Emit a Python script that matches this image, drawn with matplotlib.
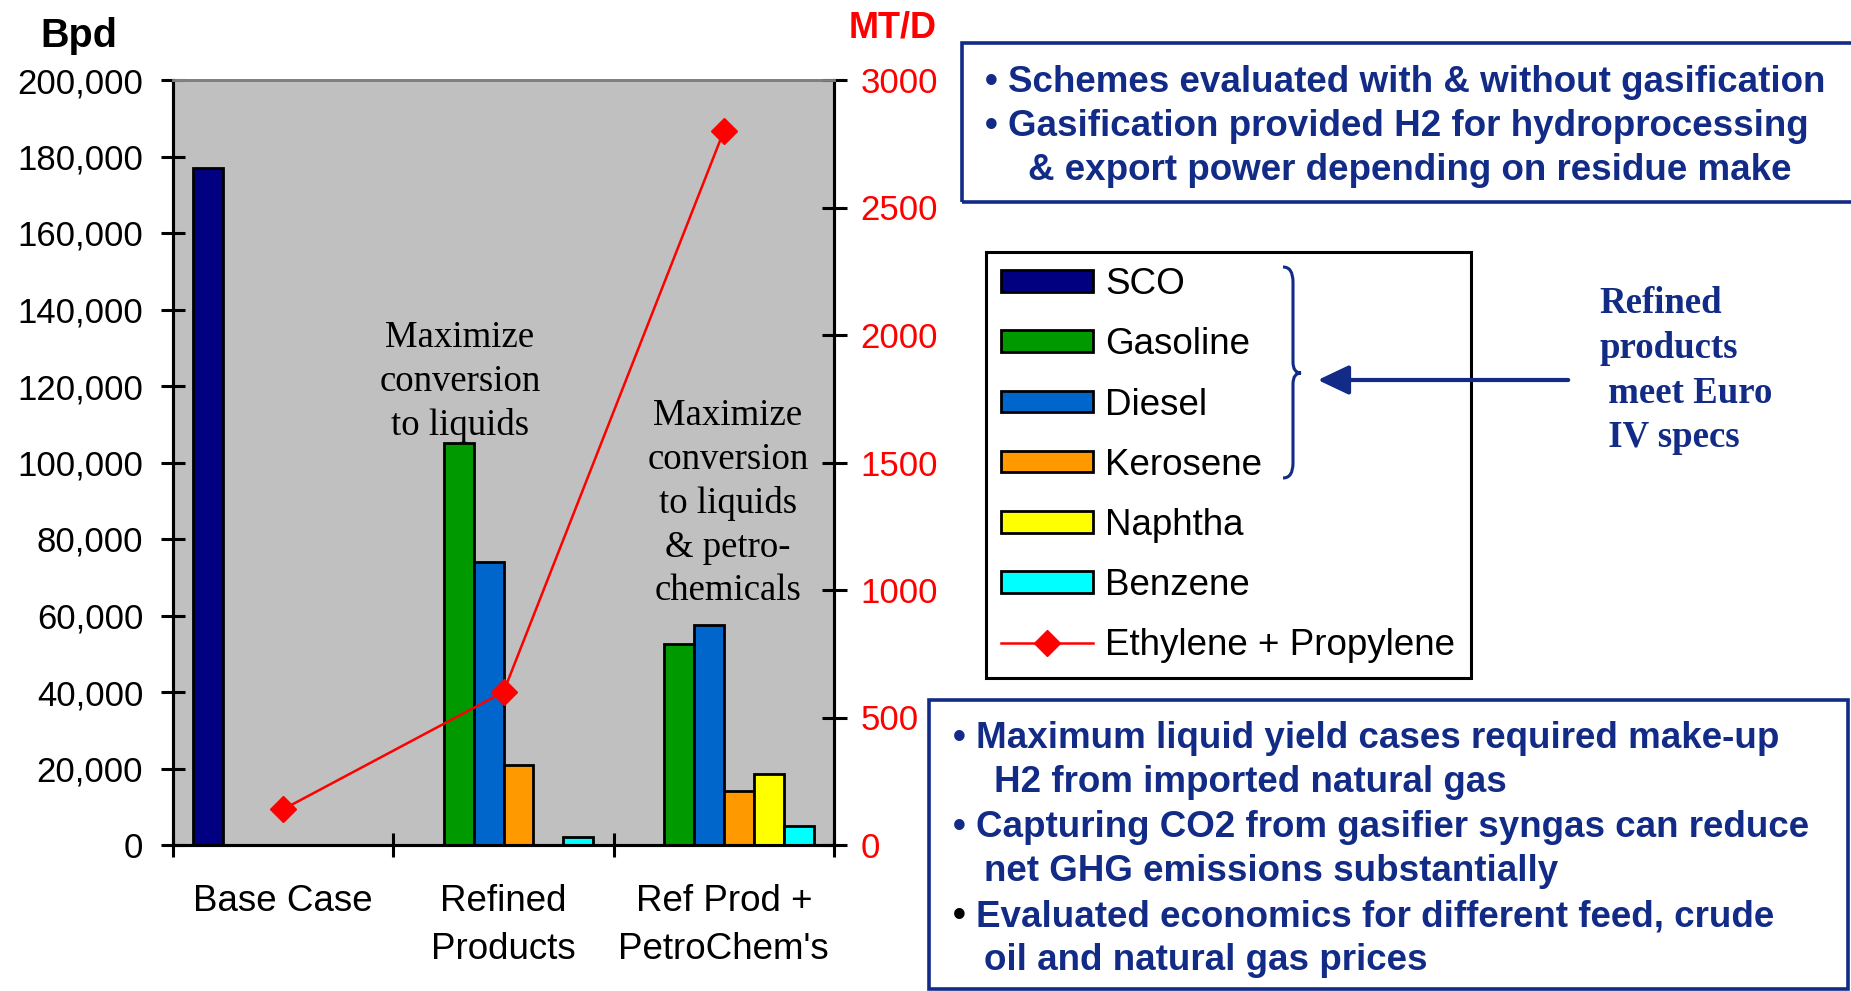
import matplotlib
matplotlib.use("Agg")
import matplotlib.pyplot as plt
import numpy as np
from matplotlib.patches import Rectangle, FancyArrowPatch, PathPatch
from matplotlib.path import Path
from matplotlib.ticker import StrMethodFormatter

# ---------------- data ----------------
categories = ["Base Case", "Refined\nProducts", "Ref Prod +\nPetroChem's"]
series_names = ["SCO", "Gasoline", "Diesel", "Kerosene", "Naphtha", "Benzene"]
sco = [177000, 0, 0]
gasoline = [0, 105000, 52500]
diesel = [0, 74000, 57500]
kerosene = [0, 21000, 14000]
naphtha = [0, 0, 18500]
benzene = [0, 2000, 5000]
ethylene_propylene = [140, 600, 2800]   # MT/D

series_colors = ["#000080", "#009900", "#0066CC", "#FF9900", "#FFFF00", "#00FFFF"]
navy = "#112B86"

box1_lines = [
    "\u2022 Schemes evaluated with & without gasification",
    "\u2022 Gasification provided H2 for hydroprocessing",
    "& export power depending on residue make",
]
box2_lines = [
    "Maximum liquid yield cases required make-up",
    "H2 from imported natural gas",
    "Capturing CO2 from gasifier syngas can reduce",
    "net GHG emissions substantially",
    "Evaluated economics for different feed, crude",
    "oil and natural gas prices",
]
note1 = ["Maximize", "conversion", "to liquids"]
note2 = ["Maximize", "conversion", "to liquids", "& petro-", "chemicals"]
side_note = ["Refined", "products", " meet Euro", " IV specs"]

# ---------------- figure ----------------
W, H = 1851, 991
fig = plt.figure(figsize=(W / 100, H / 100), dpi=100)
plt.rcParams['font.family'] = ['Liberation Sans', 'DejaVu Sans']


def fx(px):
    return px / W


def fy(py):
    return 1 - py / H


ax = fig.add_axes([fx(173), fy(845), (834 - 173) / W, (845 - 80) / H])
ax.set_facecolor("#C0C0C0")

values = [sco, gasoline, diesel, kerosene, naphtha, benzene]
x = np.arange(len(categories))
bw = 0.1357
bars = []
for j, (name, vals, col) in enumerate(zip(series_names, values, series_colors)):
    b = ax.bar(x + (j - 2.5) * bw, vals, width=bw, color=col,
               edgecolor="black", linewidth=2, label=name, zorder=2)
    bars.append(b)

ax.set_xlim(-0.5, 2.5)
ax.set_ylim(0, 200000)
ax.set_yticks(np.arange(0, 200001, 20000))
ax.yaxis.set_major_formatter(StrMethodFormatter("{x:,.0f}"))
ax.set_xticks([-0.5, 0.5, 1.5, 2.5])
ax.set_xticklabels([])
ax.set_xticks(x, minor=True)
ax.set_xticklabels(categories, minor=True, fontsize=26.5, linespacing=1.5)
ax.tick_params(axis="x", which="minor", length=0, pad=28)
ax.tick_params(axis="x", which="major", direction="inout", length=17, width=2.2)
ax.tick_params(axis="y", direction="inout", length=17, width=2.2,
               labelsize=25, pad=13)

for s in ["left", "right", "bottom"]:
    ax.spines[s].set_linewidth(2.2)
    ax.spines[s].set_color("black")
ax.spines["top"].set_color("#808080")
ax.spines["top"].set_linewidth(2)

ax2 = ax.twinx()
ax2.set_ylim(0, 3000)
ax2.set_yticks(np.arange(0, 3001, 500))
line, = ax2.plot(x, ethylene_propylene, color="red", linewidth=1.8,
                 marker="D", markersize=13, label="Ethylene + Propylene", zorder=3)
ax2.tick_params(axis="y", direction="inout", length=18, width=2.2,
                labelsize=25, labelcolor="red", pad=10)
ax2.spines["right"].set_linewidth(2.2)
ax2.spines["left"].set_linewidth(2.2)
ax2.spines["bottom"].set_linewidth(2.2)
ax2.spines["top"].set_color("#808080")
ax2.spines["top"].set_linewidth(2)

# axis titles
fig.text(fx(79), fy(47), "Bpd", fontsize=28.5, fontweight="bold", ha="center", va="baseline")
fig.text(fx(849), fy(37), "MT/D", fontsize=26, fontweight="bold", color="red",
         ha="left", va="baseline")

# annotations inside the plot
for txt, b in zip(note1, [347, 391, 435]):
    fig.text(fx(460), fy(b), txt, fontsize=26.5, family="Liberation Serif",
             ha="center", va="baseline")
for txt, b in zip(note2, [425, 469, 513, 557, 600]):
    fig.text(fx(728), fy(b), txt, fontsize=26.5, family="Liberation Serif",
             ha="center", va="baseline")

# legend
handles = bars + [line]
labels = series_names + ["Ethylene + Propylene"]
leg = fig.legend(handles, labels, loc="upper left",
                 bbox_to_anchor=(fx(986), fy(252)), bbox_transform=fig.transFigure,
                 borderaxespad=0, fontsize=26.5, frameon=True, fancybox=False,
                 edgecolor="black", framealpha=1, handlelength=2.5, handleheight=0.54,
                 handletextpad=0.32, labelspacing=0.68, borderpad=0.42,
                 numpoints=1)
leg.get_frame().set_linewidth(2.2)
leg.set_zorder(5)

# brace next to the refined product entries
brace_pts = [(1283, 267), (1293, 267), (1293, 282), (1293, 362),
             (1293, 373), (1301, 373), (1293, 373), (1293, 384),
             (1293, 463), (1293, 478), (1283, 478)]
codes = [Path.MOVETO, Path.CURVE3, Path.CURVE3, Path.LINETO,
         Path.CURVE3, Path.CURVE3, Path.CURVE3, Path.CURVE3,
         Path.LINETO, Path.CURVE3, Path.CURVE3]
brace = Path([(fx(a), fy(b)) for a, b in brace_pts], codes)
fig.add_artist(PathPatch(brace, transform=fig.transFigure, fill=False,
                         edgecolor=navy, linewidth=2.2, zorder=10))

arrow = FancyArrowPatch((fx(1571), fy(380)), (fx(1315), fy(380)),
                        transform=fig.transFigure,
                        arrowstyle="-|>,head_length=19,head_width=9",
                        mutation_scale=1, color=navy, linewidth=3, zorder=10)
fig.add_artist(arrow)

for txt, b, xs in zip(side_note, [313, 358, 403, 447], [1599, 1599, 1599, 1599]):
    fig.text(fx(xs), fy(b), txt, fontsize=26.5, family="Liberation Serif",
             fontweight="bold", color=navy, ha="left", va="baseline")

# text box 1
fig.add_artist(Rectangle((fx(962), fy(202)), (1870 - 962) / W, (202 - 43) / H,
                         transform=fig.transFigure, fill=False,
                         edgecolor=navy, linewidth=2.6))
for txt, b, xs in zip(box1_lines, [92, 136, 180], [985, 985, 1028]):
    fig.text(fx(xs), fy(b), txt, fontsize=26.5, fontweight="bold", color=navy,
             ha="left", va="baseline")

# text box 2
fig.add_artist(Rectangle((fx(929), fy(989)), (1848 - 929) / W, (989 - 700) / H,
                         transform=fig.transFigure, fill=False,
                         edgecolor=navy, linewidth=2.6))
box2_base = [748, 792, 837, 881, 926, 970]
box2_x = [976, 994, 976, 984, 976, 984]
bullet_color = [navy, None, navy, None, "black", None]
for txt, b, xs, bc in zip(box2_lines, box2_base, box2_x, bullet_color):
    if bc is not None:
        fig.text(fx(953), fy(b), "\u2022", fontsize=26.5, fontweight="bold",
                 color=bc, ha="left", va="baseline")
    fig.text(fx(xs), fy(b), txt, fontsize=26.5, fontweight="bold", color=navy,
             ha="left", va="baseline")

fig.savefig("out.png", dpi=100)
